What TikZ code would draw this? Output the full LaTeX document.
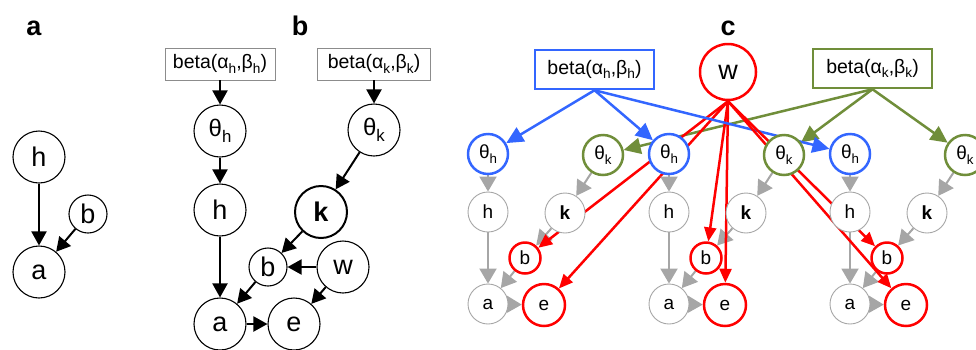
\documentclass[tikz,border=0pt]{standalone}
\usepackage{fontspec}
\setmainfont{Liberation Sans}
\usepackage{graphicx}
\usetikzlibrary{arrows.meta,backgrounds}
\definecolor{cblue}{RGB}{51,102,255}
\definecolor{cgreen}{RGB}{112,142,58}
\definecolor{cred}{RGB}{255,0,0}
\definecolor{cgray}{RGB}{166,166,166}
\definecolor{boxgray}{RGB}{140,140,140}
\newcommand\lowsub[1]{\raisebox{-0.45ex}{\scalebox{0.7}{#1}}}
\begin{document}
\begin{tikzpicture}[x=1pt,y=-1pt,
 bcirc/.style={circle,draw=black,line width=1.1pt,fill=white,inner sep=0pt,minimum size=52pt,font=\fontsize{27}{30}\selectfont},
 bsmall/.style={bcirc,minimum size=38pt},
 bth/.style={bcirc,font=\fontsize{24}{27}\selectfont},
 barr/.style={line width=2pt,-{Triangle[width=15pt,length=14pt]}},
 bbox/.style={draw=boxgray,line width=0.8pt,fill=white,minimum width=110pt,minimum height=32pt,inner sep=0pt,font=\fontsize{19.5}{22}\selectfont},
 plabel/.style={anchor=base,font=\fontsize{27}{29}\selectfont\bfseries},
 ccirc/.style={circle,draw=cgray,line width=0.9pt,fill=white,inner sep=0pt,minimum size=40pt,font=\fontsize{19}{21}\selectfont},
 cbl/.style={ccirc,draw=cblue,line width=2.5pt},
 cgr/.style={ccirc,draw=cgreen,line width=2.5pt},
 cre/.style={ccirc,draw=cred,line width=2.5pt},
 cbox/.style={line width=2.5pt,fill=white,minimum width=119pt,minimum height=39pt,inner sep=0pt,font=\fontsize{19.5}{22}\selectfont},
 garr/.style={draw=cgray,line width=2pt,-{Triangle[width=17pt,length=15pt]}},
 bluearr/.style={draw=cblue,line width=2.5pt,-{Triangle[width=16pt,length=17pt]}},
 greenarr/.style={draw=cgreen,line width=2.5pt,-{Triangle[width=16pt,length=17pt]}},
 redarr/.style={draw=cred,line width=2.5pt,-{Triangle[width=12pt,length=14pt]}}
]
\useasboundingbox (0,0) rectangle (976,349);
% panel labels
\node[plabel] (la) at (34,35) {a};
\node[plabel] (lb) at (300,35) {b};
\node[plabel] (lc) at (728,35) {c};
% panel a
\node[bcirc] (ha) at (39,157) {h};
\node[bsmall] (ba) at (88,214) {b};
\node[bcirc] (aa) at (39,272) {a};
\draw[barr] (ha) -- (aa);
\draw[barr] (ba) -- (aa);
% panel b
\node[bbox] (bhbox) at (220,64) {beta(α\lowsub{h},β\lowsub{h})};
\node[bbox,minimum width=113pt] (bkbox) at (374,64) {beta(α\lowsub{k},β\lowsub{k})};
\node[bth] (bth) at (220,131) {θ\lowsub{h}};
\node[bcirc] (bh) at (220,210) {h};
\node[bth] (btk) at (374,130) {θ\lowsub{k}};
\node[bcirc,line width=2pt,font=\fontsize{27}{30}\selectfont\bfseries] (bk) at (321,212) {k};
\node[bsmall] (bb) at (268,267) {b};
\node[bcirc] (bw) at (343,267) {w};
\node[bcirc] (ba2) at (220,324) {a};
\node[bcirc] (be) at (294,324) {e};
\draw[barr] (bhbox) -- (bth);
\draw[barr] (bth) -- (bh);
\draw[barr] (bh) -- (ba2);
\draw[barr] (bkbox) -- (btk);
\draw[barr] (btk) -- (bk);
\draw[barr] (bk) -- (bb);
\draw[barr] (bw) -- (bb);
\draw[barr] (bb) -- (ba2);
\draw[barr] (bw) -- (be);
\draw[barr] (ba2) -- (be);
% panel c
\node[cbox,draw=cblue] (chbox) at (594.5,69.5) {beta(α\lowsub{h},β\lowsub{h})};
\node[cbox,draw=cgreen] (ckbox) at (872.5,68.5) {beta(α\lowsub{k},β\lowsub{k})};
\node[cre,minimum size=56pt,font=\fontsize{27}{29}\selectfont] (cw) at (728,72) {w};
\foreach \g/\x in {1/488,2/669,3/850}{
  \node[cbl] (th\g) at (\x,154) {θ\lowsub{h}};
  \node[cgr] (tk\g) at (\x+115,155) {θ\lowsub{k}};
  \node[ccirc] (h\g) at (\x,212) {h};
  \node[ccirc,font=\fontsize{19}{21}\selectfont\bfseries] (k\g) at (\x+77,213) {k};
  \node[cre,minimum size=31pt] (b\g) at (\x+37,258) {b};
  \node[ccirc] (a\g) at (\x,304) {a};
  \node[cre,minimum size=42pt] (e\g) at (\x+56,305) {e};
}
\begin{pgfonlayer}{background}
\foreach \g in {1,2,3}{
  \draw[garr] (th\g) -- (h\g);
  \draw[garr] (h\g) -- (a\g);
  \draw[garr] (tk\g) -- (k\g);
  \draw[garr] (k\g) -- (b\g);
  \draw[garr] (b\g) -- (a\g);
  \draw[garr] (a\g) -- (e\g);
  \draw[bluearr] (chbox.south) -- (th\g);
  \draw[greenarr] (ckbox.south) -- (tk\g);
  \draw[redarr] (cw.south) -- (b\g);
  \draw[redarr] (cw.south) -- (e\g);
}
\end{pgfonlayer}
\end{tikzpicture}
\end{document}
